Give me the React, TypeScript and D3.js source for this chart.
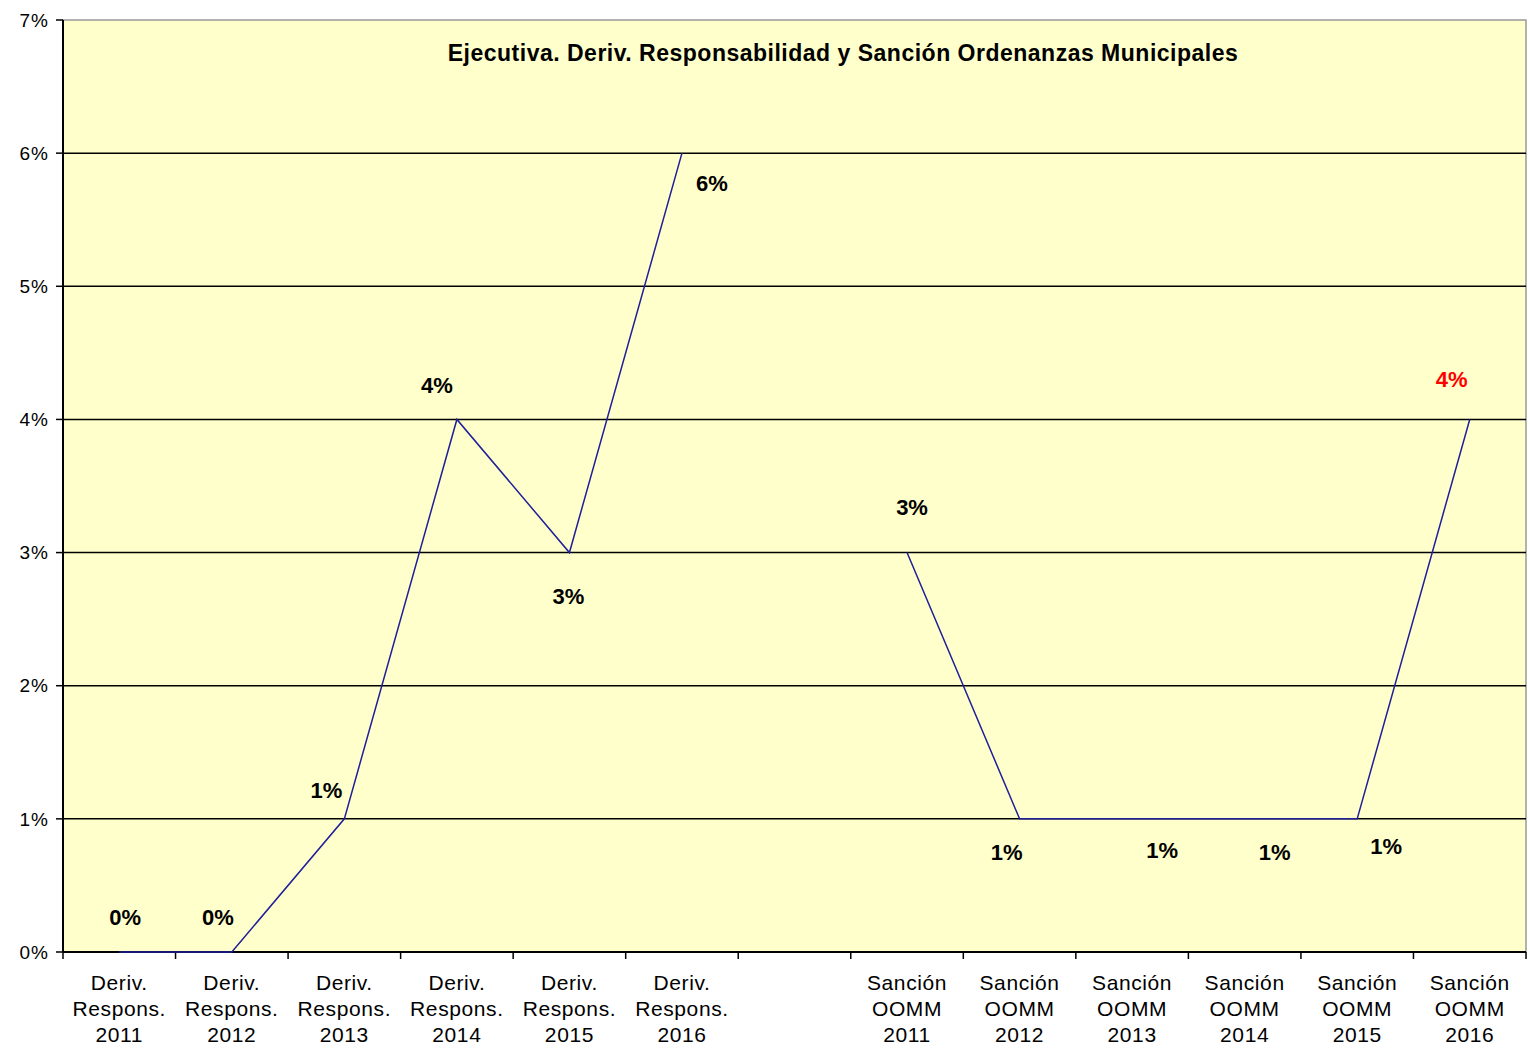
import React from "react";
import * as d3 from "d3";

const categories = [
  "Deriv.|Respons.|2011", "Deriv.|Respons.|2012", "Deriv.|Respons.|2013",
  "Deriv.|Respons.|2014", "Deriv.|Respons.|2015", "Deriv.|Respons.|2016",
  "",
  "Sanción|OOMM|2011", "Sanción|OOMM|2012", "Sanción|OOMM|2013",
  "Sanción|OOMM|2014", "Sanción|OOMM|2015", "Sanción|OOMM|2016",
];
const values: (number | null)[] = [0, 0, 0.01, 0.04, 0.03, 0.06, null, 0.03, 0.01, 0.01, 0.01, 0.01, 0.04];
const yTicks = [0, 0.01, 0.02, 0.03, 0.04, 0.05, 0.06, 0.07];
const title = "Ejecutiva. Deriv. Responsabilidad y Sanción Ordenanzas Municipales";

// label layout offsets (dx, dy) relative to each point
const labelOffsets: [number, number][] = [
  [6, -35], [-14, -35], [-18, -29], [-20, -34], [-1, 44], [30, 30], [0, 0],
  [5, -45], [-13, 33], [30, 31], [30, 33], [29, 27], [-18, -40],
];
const labelColors = ["#000", "#000", "#000", "#000", "#000", "#000", "#000", "#000", "#000", "#000", "#000", "#000", "#FF0000"];

export default function App() {
  const W = 1530, H = 1050;
  const left = 63, right = 1526, top = 20, bottom = 952;
  const x = d3.scaleBand<number>().domain(d3.range(categories.length)).range([left, right]);
  const y = d3.scaleLinear().domain([0, 0.07]).range([bottom, top]);
  const fmt = d3.format(".0%");
  const line = d3.line<number | null>()
    .defined((d) => d !== null)
    .x((_, i) => x(i)! + x.bandwidth() / 2)
    .y((d) => y(d as number));
  const font = "'Liberation Sans', Arial, sans-serif";
  return (
    <svg width={W} height={H} style={{ position: "absolute", left: 0, top: 0 }} fontFamily={font}>
      <rect x={0} y={0} width={W} height={H} fill="#fff" />
      <rect x={left} y={top} width={right - left} height={bottom - top} fill="#FFFFCC" stroke="#999" strokeWidth={1.5} />
      {yTicks.map((t) => (
        <g key={t}>
          {t > 0 && t < 0.07 && (
            <line x1={left} x2={right} y1={y(t)} y2={y(t)} stroke="#000" strokeWidth={1.5} />
          )}
          <line x1={left - 7} x2={left} y1={y(t)} y2={y(t)} stroke="#000" strokeWidth={1.5} />
          <text x={49} y={y(t)} dy="0.35em" textAnchor="end" fontSize={19} fill="#000" letterSpacing={1}>
            {fmt(t)}
          </text>
        </g>
      ))}
      <line x1={left} x2={left} y1={top} y2={bottom} stroke="#000" strokeWidth={2} />
      <line x1={left} x2={right} y1={bottom} y2={bottom} stroke="#000" strokeWidth={2} />
      {d3.range(categories.length + 1).map((i) => {
        const xx = i < categories.length ? x(i)! : right;
        return <line key={i} x1={xx} x2={xx} y1={bottom} y2={bottom + 7} stroke="#000" strokeWidth={1.5} />;
      })}
      {categories.map((c, i) =>
        c.split("|").map((s, j) => (
          <text key={`${i}-${j}`} x={x(i)! + x.bandwidth() / 2} y={bottom + 38 + j * 26} textAnchor="middle" fontSize={21} fill="#000" letterSpacing={0.6}>
            {s}
          </text>
        ))
      )}
      <path d={line(values) || ""} fill="none" stroke="#1F1F99" strokeWidth={1.5} />
      {values.map((v, i) =>
        v === null ? null : (
          <text key={i} x={x(i)! + x.bandwidth() / 2 + labelOffsets[i][0]} y={y(v) + labelOffsets[i][1]} dy="0.35em" textAnchor="middle" fontSize={22} fontWeight="bold" fill={labelColors[i]}>
            {fmt(v)}
          </text>
        )
      )}
      <text x={843} y={53} dy="0.35em" textAnchor="middle" fontSize={23} fontWeight="bold" fill="#000" letterSpacing={0.5}>
        {title}
      </text>
    </svg>
  );
}
